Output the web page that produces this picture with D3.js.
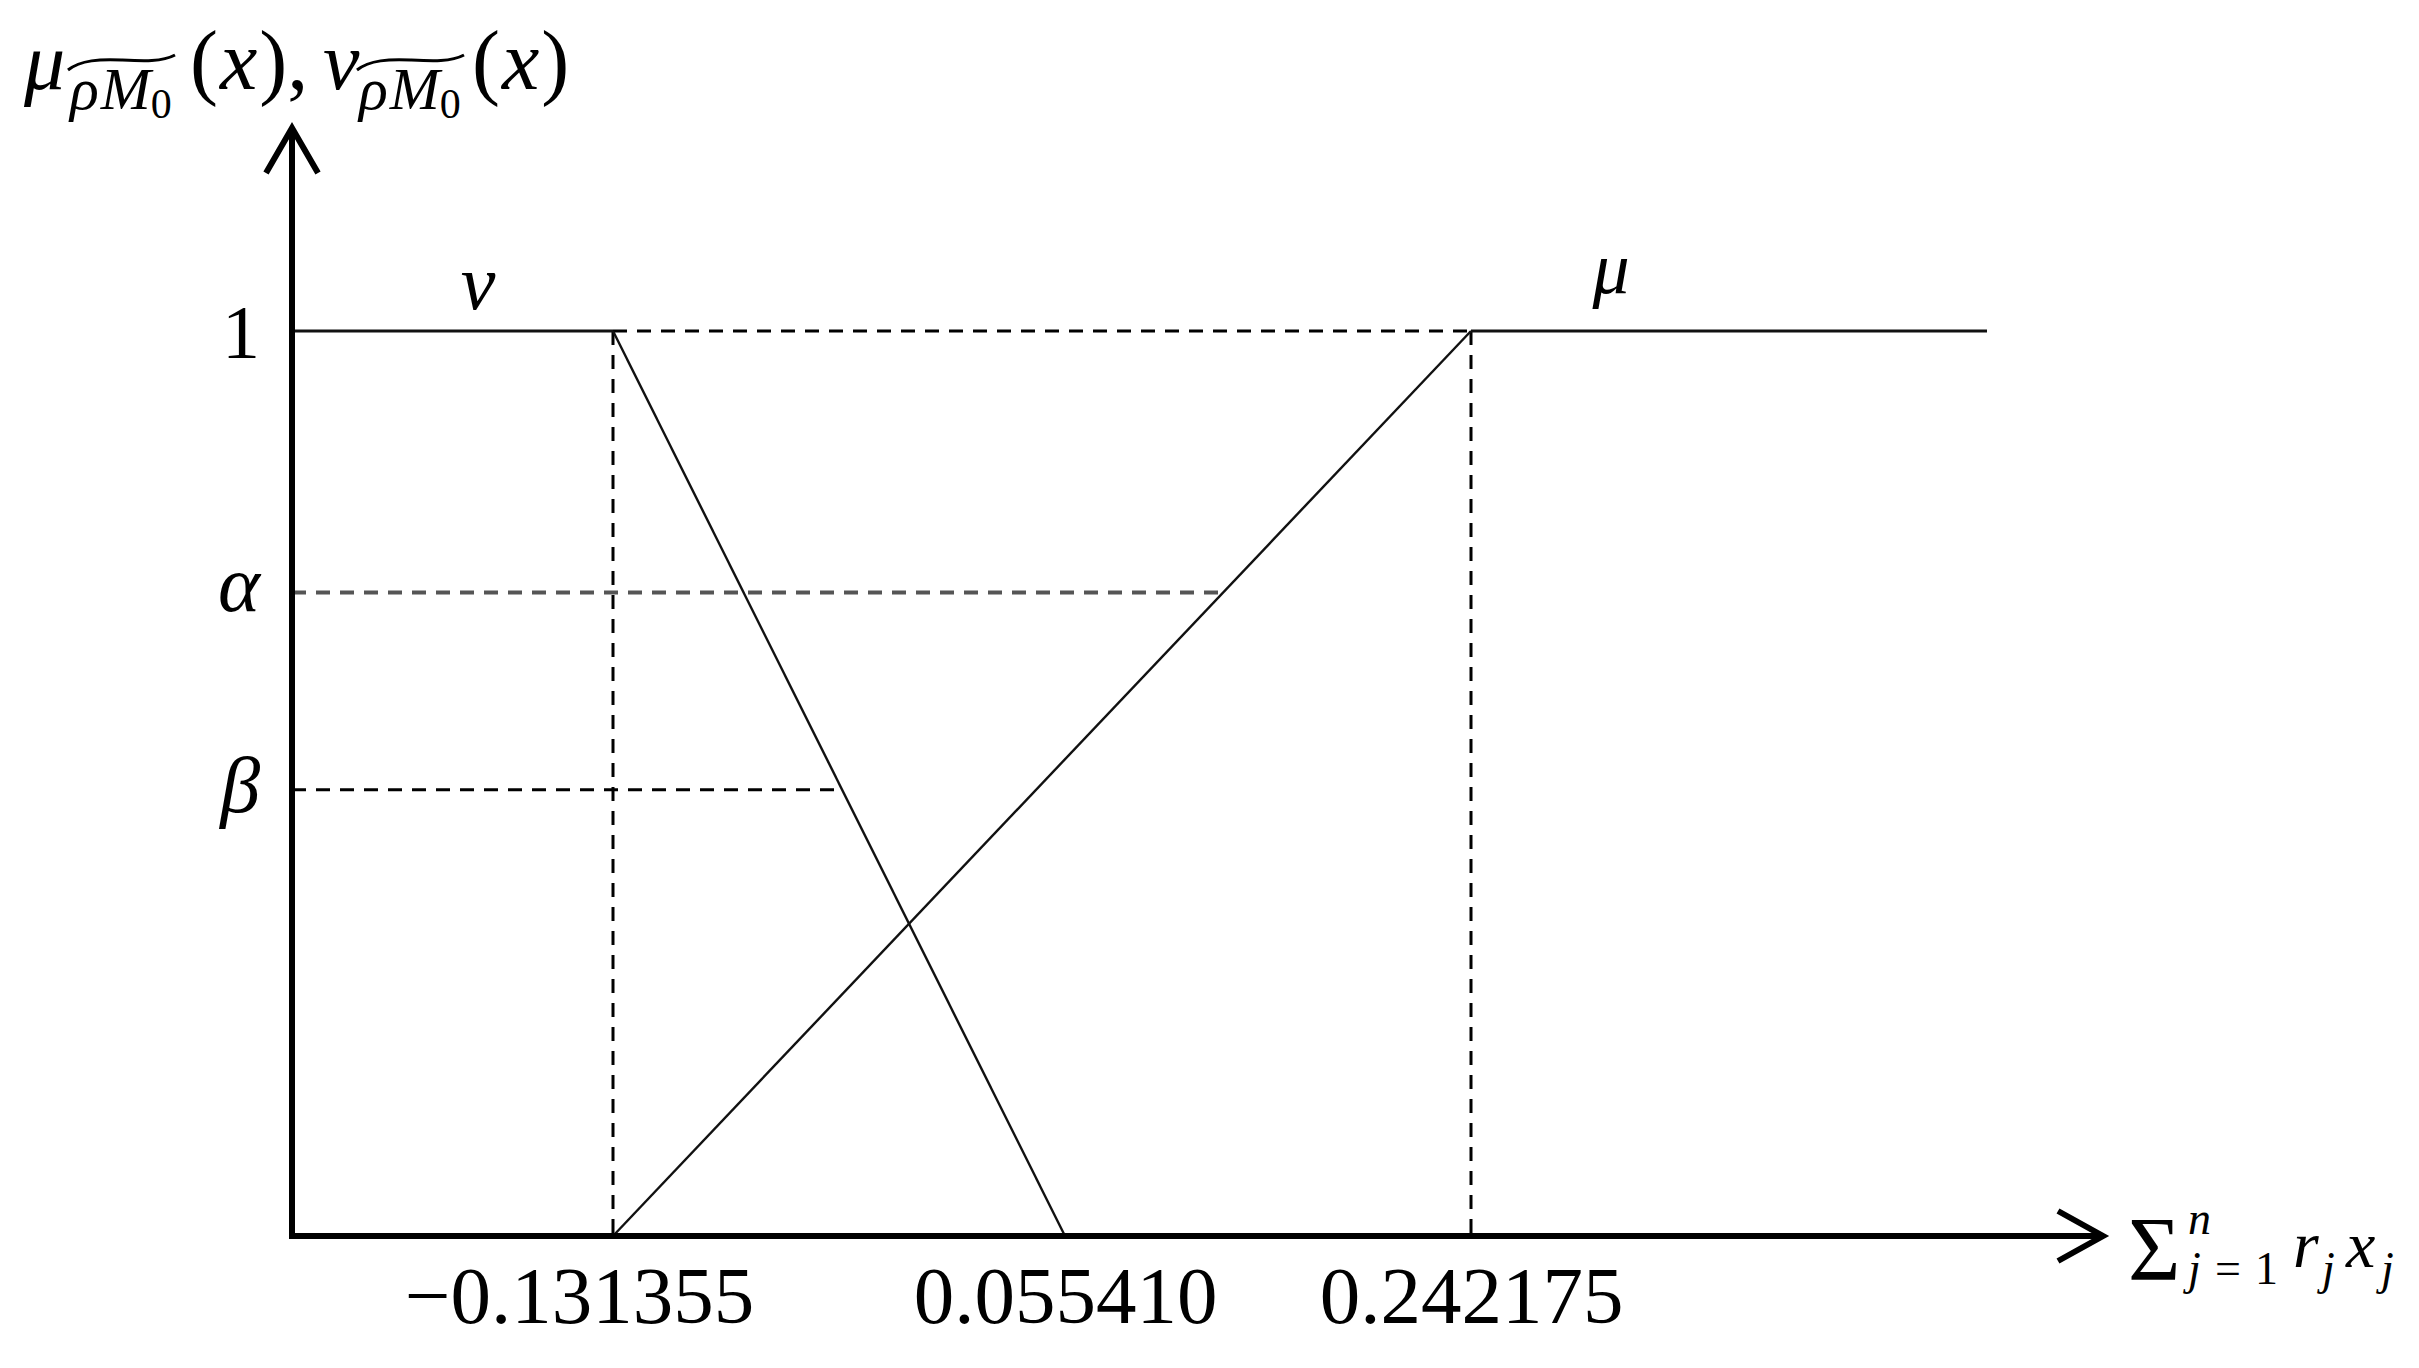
<!DOCTYPE html>
<html>
<head>
<meta charset="utf-8">
<script src="https://cdn.jsdelivr.net/npm/d3@7/dist/d3.min.js"></script>
<style>
  html, body { margin: 0; padding: 0; background: #fff; }
  svg { display: block; }
  text { font-family: "Liberation Serif", "Times New Roman", serif; fill: #000; }
</style>
</head>
<body>
<svg id="chart" width="2419" height="1368"></svg>
<script>
// ---------------- DATA ----------------
const xTickValues = [-0.131355, 0.055410, 0.242175];
const xTickLabels = ["\u22120.131355", "0.055410", "0.242175"];
const yLevelNames = ["1", "\u03B1", "\u03B2"];
const yLevelValues = [1, 0.711, 0.493];
const yLevelItalic = [false, true, true];
const nuKnots = [-0.131355, 0.055410];   // ν: 1 -> 0
const muKnots = [-0.131355, 0.242175];   // μ: 0 -> 1
const curveNames = ["\u03BD", "\u03BC"];

// ---------------- LAYOUT ----------------
const W = 2419, H = 1368;
const plotLeft = 292, plotBottom = 1236, plotTopOne = 331;
const yArrowTip = 128, xArrowTip = 2103, muLineEnd = 1987;
const svg = d3.select("#chart");

const x = d3.scaleLinear().domain(xTickValues).range([613, 1065, 1471]);
const y = d3.scaleLinear().domain([0, 1]).range([plotBottom, plotTopOne]);
const line = d3.line();

const dashed = svg.append("g").attr("fill", "none").attr("stroke", "#000")
  .attr("stroke-width", 3).attr("stroke-dasharray", "14,10");

// top dashed between knots
dashed.append("path").attr("d", line([[x(nuKnots[0]), y(1)], [x(muKnots[1]), y(1)]]));
// vertical dashed lines
[nuKnots[0], muKnots[1]].forEach(v => {
  dashed.append("path").attr("d", line([[x(v), y(1)], [x(v), y(0)]]));
});
// α level: meets μ line
const muX0 = x(muKnots[0]), muX1 = x(muKnots[1]);
const nuX0 = x(nuKnots[0]), nuX1 = x(nuKnots[1]);
const alpha = yLevelValues[1], beta = yLevelValues[2];
dashed.append("path").attr("d", line([[plotLeft, y(alpha)], [muX0 + alpha * (muX1 - muX0), y(alpha)]]))
  .attr("stroke", "#555").attr("stroke-width", 4);
// β level: meets ν line
dashed.append("path").attr("d", line([[plotLeft, y(beta)], [nuX0 + (1 - beta) * (nuX1 - nuX0), y(beta)]]));

// solid curves
const solid = svg.append("g").attr("fill", "none").attr("stroke", "#111");
solid.append("path").attr("stroke-width", 3.2)
  .attr("d", line([[plotLeft, y(1)], [nuX0, y(1)]]));
solid.append("path").attr("stroke-width", 2.4)
  .attr("d", line([[nuX0, y(1)], [nuX1, y(0)]]));
solid.append("path").attr("stroke-width", 2.4)
  .attr("d", line([[muX0, y(0)], [muX1, y(1)]]));
solid.append("path").attr("stroke-width", 3.2)
  .attr("d", line([[muX1, y(1)], [muLineEnd, y(1)]]));

// axes with arrows
const axes = svg.append("g").attr("fill", "none").attr("stroke", "#000")
  .attr("stroke-width", 6).attr("stroke-linecap", "butt");
axes.append("path").attr("d", line([[plotLeft, plotBottom + 3], [plotLeft, yArrowTip + 2]]));
axes.append("path").attr("d", line([[plotLeft - 3, plotBottom], [xArrowTip - 2, plotBottom]]));
axes.append("path").attr("stroke-linejoin", "miter")
  .attr("d", line([[plotLeft - 26, yArrowTip + 45], [plotLeft, yArrowTip], [plotLeft + 26, yArrowTip + 45]]));
axes.append("path").attr("stroke-linejoin", "miter")
  .attr("d", line([[xArrowTip - 45, plotBottom - 25], [xArrowTip, plotBottom], [xArrowTip - 45, plotBottom + 25]]));

// x tick labels via d3 axis
const xAxis = d3.axisBottom(x).tickValues(xTickValues)
  .tickFormat((d, i) => xTickLabels[i]).tickSize(0).tickPadding(0);
const gx = svg.append("g").attr("transform", `translate(0,${plotBottom})`).call(xAxis);
gx.select(".domain").remove();
gx.selectAll(".tick text")
  .attr("font-family", "Liberation Serif").attr("font-size", 81)
  .attr("fill", "#000").attr("y", 87).attr("dy", 0)
  .attr("dx", d => d < 0 ? "-0.42em" : "0");

// y level labels
yLevelNames.forEach((name, i) => {
  const yy = y(yLevelValues[i]);
  const off = i === 0 ? 27 : (i === 1 ? 18 : 22);
  svg.append("text").attr("x", 260).attr("y", yy + off)
    .attr("text-anchor", "end").attr("font-size", i === 0 ? 76 : 80)
    .attr("font-style", yLevelItalic[i] ? "italic" : "normal").text(name);
});

// curve name labels
svg.append("text").attr("x", nuX0 - 135).attr("y", y(1) - 22).attr("text-anchor", "middle")
  .attr("font-size", 78).attr("font-style", "italic").text(curveNames[0]);
svg.append("text").attr("x", muX1 + 140).attr("y", y(1) - 38).attr("text-anchor", "middle")
  .attr("font-size", 74).attr("font-style", "italic").text(curveNames[1]);

// ---------- math text helper ----------
function runs(xStart, baseline, list) {
  let cx = xStart;
  list.forEach(r => {
    const t = svg.append("text").attr("x", cx).attr("y", baseline + (r.dy || 0))
      .attr("font-size", r.size).attr("font-style", r.it ? "italic" : "normal").text(r.t);
    const w = t.node().getComputedTextLength();
    cx += w + (r.gap || 0);
  });
}
function tilde(x0, x1, yb) {
  const w = x1 - x0;
  svg.append("path").attr("fill", "none").attr("stroke", "#000").attr("stroke-width", 3)
    .attr("d", `M${x0},${yb + 10} C${x0 + 0.12 * w},${yb} ${x0 + 0.3 * w},${yb - 1} ${x0 + 0.5 * w},${yb}` +
               ` S${x1 - 0.12 * w},${yb + 2} ${x1},${yb - 5}`);
}

// y axis title
runs(24, 89, [{t: "\u03BC", size: 82, it: true}]);
runs(70, 89, [
  {t: "\u03C1", size: 60, it: true, dy: 20, gap: 2},
  {t: "M", size: 60, it: true, dy: 20},
  {t: "0", size: 42, dy: 29}]);
tilde(68, 175, 60);
runs(190, 89, [{t: "(", size: 84, gap: 2}, {t: "x", size: 84, it: true, gap: 2}, {t: ")", size: 84}, {t: ",", size: 84}]);
runs(323, 89, [{t: "v", size: 82, it: true}]);
runs(359, 89, [
  {t: "\u03C1", size: 60, it: true, dy: 20, gap: 2},
  {t: "M", size: 60, it: true, dy: 20},
  {t: "0", size: 42, dy: 29}]);
tilde(357, 464, 60);
runs(472, 89, [{t: "(", size: 84, gap: 2}, {t: "x", size: 84, it: true, gap: 2}, {t: ")", size: 84}]);

// x axis title  Σ_{j=1}^{n} r_j x_j
runs(2128, 1280, [{t: "\u03A3", size: 90}]);
runs(2188, 1234, [{t: "n", size: 46, it: true}]);
runs(2188, 1284, [{t: "j", size: 46, it: true}]);
runs(2215, 1284, [{t: "=", size: 46}]);
runs(2255, 1284, [{t: "1", size: 46}]);
runs(2293, 1267, [{t: "r", size: 66, it: true}]);
runs(2322, 1284, [{t: "j", size: 46, it: true}]);
runs(2346, 1267, [{t: "x", size: 66, it: true}]);
runs(2381, 1284, [{t: "j", size: 46, it: true}]);
</script>
</body>
</html>
